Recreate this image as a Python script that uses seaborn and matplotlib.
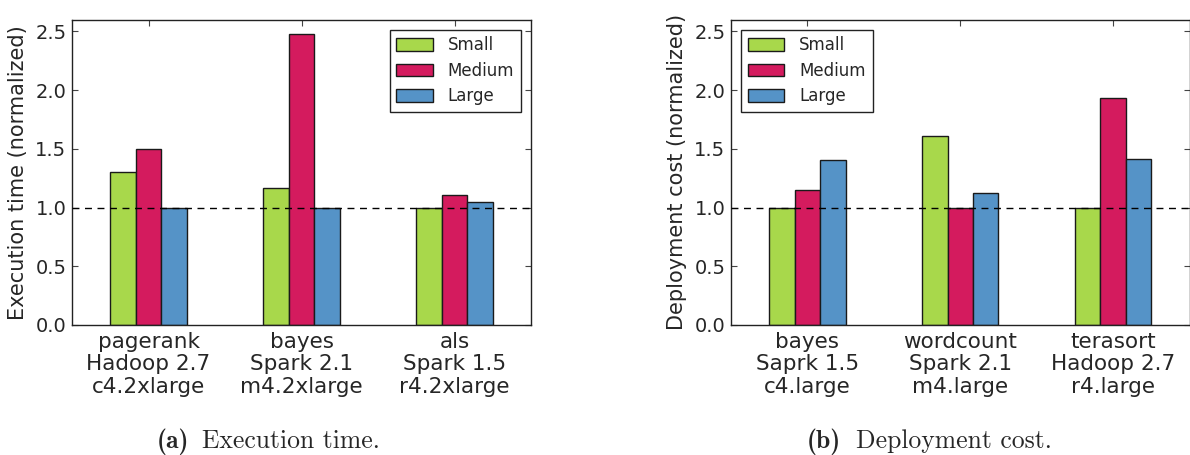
import matplotlib
matplotlib.use("Agg")
import matplotlib.pyplot as plt
import seaborn as sns
import pandas as pd

sizes = ["Small", "Medium", "Large"]
colors = ["#a8d84b", "#d41b5e", "#5593c7"]

exec_groups = ["pagerank\nHadoop 2.7\nc4.2xlarge", "bayes\nSpark 2.1\nm4.2xlarge", "als\nSpark 1.5\nr4.2xlarge"]
exec_small = [1.30, 1.17, 1.00]
exec_medium = [1.50, 2.48, 1.105]
exec_large = [1.00, 1.00, 1.045]

cost_groups = ["bayes\nSaprk 1.5\nc4.large", "wordcount\nSpark 2.1\nm4.large", "terasort\nHadoop 2.7\nr4.large"]
cost_small = [1.00, 1.61, 1.00]
cost_medium = [1.15, 1.00, 1.935]
cost_large = [1.405, 1.12, 1.41]

yticks = [0.0, 0.5, 1.0, 1.5, 2.0, 2.5]


def make_df(groups, s, m, l):
    rows = []
    for vals, name in zip([s, m, l], sizes):
        for g, v in zip(groups, vals):
            rows.append({"group": g, "size": name, "value": v})
    return pd.DataFrame(rows)


sns.set_style("ticks")
plt.rcParams["font.family"] = ["DejaVu Sans"]

XT = 15.5
YT = 14.0
YL = 15.0
LG = 12.0

fig = plt.figure(figsize=(11.9, 4.55), dpi=100)
W, H = 1190, 455
ax1 = fig.add_axes([72 / W, (H - 325) / H, 459 / W, 305.5 / H])
ax2 = fig.add_axes([731 / W, (H - 325) / H, 458.5 / W, 305.5 / H])

panels = [
    (ax1, make_df(exec_groups, exec_small, exec_medium, exec_large), exec_groups,
     "Execution time (normalized)", "upper right"),
    (ax2, make_df(cost_groups, cost_small, cost_medium, cost_large), cost_groups,
     "Deployment cost (normalized)", "upper left"),
]

for ax, df, groups, ylabel, loc in panels:
    sns.barplot(data=df, x="group", y="value", hue="size", order=groups,
                hue_order=sizes, palette=colors, width=0.5, ax=ax,
                edgecolor="#1a1a1a", linewidth=1.0, saturation=1.0)
    ax.axhline(1.0, color="black", linestyle=(0, (5, 4)), linewidth=1.0, zorder=5)
    ax.set_xlim(-0.5, 2.5)
    ax.set_ylim(0, 2.6)
    ax.set_yticks(yticks)
    ax.set_yticklabels([f"{t:.1f}" for t in yticks])
    ax.set_xticks(range(len(groups)))
    ax.set_xticklabels(groups, fontsize=XT, linespacing=1.15)
    ax.set_xlabel("")
    ax.set_ylabel(ylabel, fontsize=YL, labelpad=5)
    ax.tick_params(axis="both", which="both", direction="in", top=True, right=True,
                   length=4, width=0.8, color="#444444")
    ax.tick_params(axis="y", labelsize=YT, pad=4)
    ax.tick_params(axis="x", pad=5)
    for sp in ax.spines.values():
        sp.set_visible(True)
        sp.set_color("#222222")
        sp.set_linewidth(1.0)
    ax.set_facecolor("white")
    leg = ax.legend(loc=loc, fontsize=LG, frameon=True, fancybox=False,
                    edgecolor="#222222", handlelength=2.2, handleheight=0.8,
                    handletextpad=0.9, borderpad=0.4, labelspacing=0.45,
                    borderaxespad=0.6)
    leg.get_frame().set_linewidth(1.0)
    leg.get_frame().set_alpha(1.0)
    for h in leg.legend_handles:
        h.set_edgecolor("#1a1a1a")
        h.set_linewidth(1.0)

# captions
cap_y = (H - 448) / H
CS = 18.5
fig.text(189.4 / W, cap_y, "(a)", family="cmb10", fontsize=CS, ha="right", va="baseline")
fig.text(201.7 / W, cap_y, "Execution time.", family="cmr10", fontsize=CS, ha="left", va="baseline")
fig.text(840.8 / W, cap_y, "(b)", family="cmb10", fontsize=CS, ha="right", va="baseline")
fig.text(855.8 / W, cap_y, "Deployment cost.", family="cmr10", fontsize=CS, ha="left", va="baseline")

fig.savefig("out.png", dpi=100)
